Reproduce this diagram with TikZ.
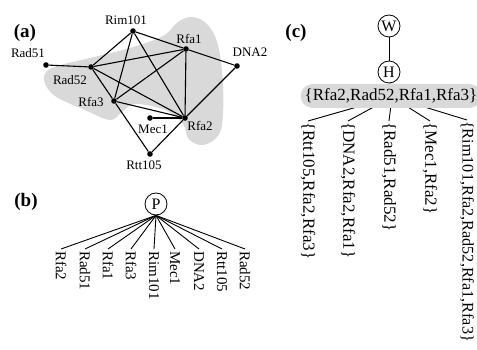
\documentclass[tikz,border=0pt]{standalone}
\usepackage{fontspec}
\setmainfont{Liberation Serif}
\begin{document}
\begin{tikzpicture}[x=1pt,y=-1pt,
  dot/.style={circle,fill=black,inner sep=0,minimum size=5.6pt},
  lbla/.style={font=\fontsize{13}{15}\selectfont,inner sep=0},
  panel/.style={font=\fontsize{19}{22}\selectfont\bfseries,inner sep=0},
  edgea/.style={line width=1.1pt},
  edgeb/.style={line width=0.9pt},
  cnode/.style={circle,draw,line width=0.8pt,minimum size=22pt,inner sep=0,font=\fontsize{16}{18}\selectfont},
  leafb/.style={rotate=-90,anchor=west,inner sep=0,font=\fontsize{15}{17}\selectfont},
  leafc/.style={rotate=-90,anchor=west,inner sep=0,font=\fontsize{17}{19}\selectfont},
  blobfill/.style={fill=gray!30}]
\useasboundingbox (0,0) rectangle (477,350);

% ---------- panel (a) ----------
\fill[blobfill] plot[smooth cycle,tension=0.6] coordinates {
 (44,80) (52,68) (90,58) (130,48) (163,36) (178,22) (192,17) (207,24)
 (218,45) (223,85) (222,125) (214,140) (200,145) (188,138) (183,124)
 (165,110) (135,104) (122,112) (110,120) (85,110) (55,96)};

\node[panel] (pa) at (25,33) {(a)};

\node[dot] (Rim) at (133,31) {};
\node[dot] (Rfa1) at (186,49) {};
\node[dot] (DNA) at (237,66) {};
\node[dot] (Rad51) at (46,65) {};
\node[dot] (Rad52) at (91,67) {};
\node[dot] (Rfa3) at (114,101) {};
\node[dot] (Mec) at (150,118) {};
\node[dot] (Rfa2) at (185,118) {};
\node[dot] (Rtt) at (150,154) {};

\node[lbla] (lRim) at (126,20) {Rim101};
\node[lbla] (lRfa1) at (189,39) {Rfa1};
\node[lbla] (lDNA) at (250,52) {DNA2};
\node[lbla] (lRad51) at (28,53) {Rad51};
\node[lbla] (lRad52) at (70,80) {Rad52};
\node[lbla] (lRfa3) at (91,102) {Rfa3};
\node[lbla] (lMec) at (153,129) {Mec1};
\node[lbla] (lRfa2) at (200,126) {Rfa2};
\node[lbla] (lRtt) at (144,165) {Rtt105};

\draw[edgea] (Rad51) -- (Rad52);
\draw[edgea] (Rad52) -- (Rim);
\draw[edgea] (Rad52) -- (Rfa1);
\draw[edgea] (Rad52) -- (Rfa2);
\draw[edgea] (Rad52) -- (Rfa3);
\draw[edgea] (Rfa3) -- (Rtt);
\draw[edgea] (Rim) -- (Rfa1);
\draw[edgea] (Rim) -- (Rfa2);
\draw[edgea] (Rim) -- (Rfa3);
\draw[edgea] (Rfa1) -- (DNA);
\draw[edgea] (Rfa1) -- (Rfa2);
\draw[edgea] (Rfa1) -- (Rfa3);
\draw[edgea] (Rfa3) -- (Rfa2);
\draw[edgea] (Mec) -- (Rfa2);
\draw[edgea] (Rfa2) -- (DNA);
\draw[edgea] (Rfa2) -- (Rtt);

% ---------- panel (b) ----------
\node[panel] (pb) at (26,202) {(b)};
\node[cnode] (P) at (156,204) {P};

\node[leafb] (b1) at (61,251) {Rfa2};
\node[leafb] (b2) at (85,251) {Rad51};
\node[leafb] (b3) at (108,251) {Rfa1};
\node[leafb] (b4) at (131,251) {Rfa3};
\node[leafb] (b5) at (154,251) {Rim101};
\node[leafb] (b6) at (175,251) {Mec1};
\node[leafb] (b7) at (199,251) {DNA2};
\node[leafb] (b8) at (222,251) {Rtt105};
\node[leafb] (b9) at (245,251) {Rad52};

\foreach \n in {b1,b2,b3,b4,b5,b6,b7,b8,b9}
  \draw[edgeb] (P.south) -- ([yshift=2pt]\n.west);

% ---------- panel (c) ----------
\node[panel] (pc) at (296,33) {(c)};
\node[cnode] (W) at (389,26) {W};
\node[cnode] (H) at (389,72) {H};
\draw[edgeb] (W) -- (H);

\node[leafc] (c1) at (308,122) {\{Rtt105,Rfa2,Rfa3\}};
\node[leafc] (c2) at (348,122) {\{DNA2,Rfa2,Rfa1\}};
\node[leafc] (c3) at (389,122) {\{Rad51,Rad52\}};
\node[leafc] (c4) at (430,122) {\{Mec1,Rfa2\}};
\node[leafc,font=\fontsize{16.2}{18}\selectfont] (c5) at (467,121) {\{Rim101,Rfa2,Rad52,Rfa1,Rfa3\}};

\coordinate (ec) at (392,97);
\foreach \n in {c1,c2,c3,c4,c5}
  \draw[edgeb] (ec) -- ([yshift=1pt]\n.west);

\node[fill=gray!30,rounded corners=12pt,minimum height=24pt,inner xsep=4pt,inner ysep=0,
      font=\fontsize{17}{19}\selectfont] (E) at (391,96) {\{Rfa2,Rad52,Rfa1,Rfa3\}};
\draw[edgeb] (H) -- (E);
\end{tikzpicture}
\end{document}
